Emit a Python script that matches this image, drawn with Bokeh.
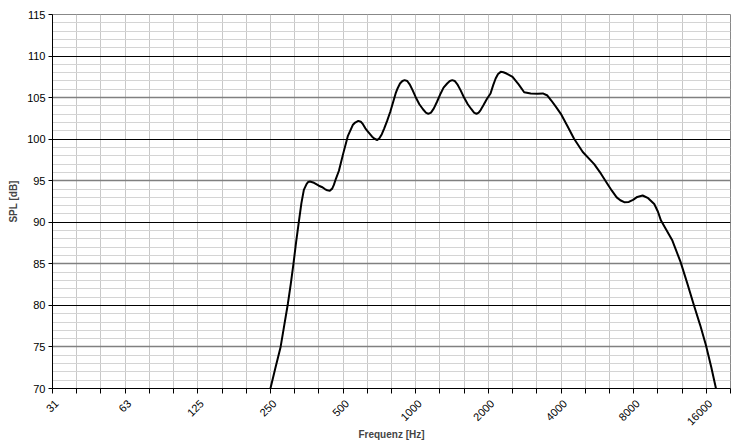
import math
from bokeh.plotting import figure
from bokeh.models import Range1d, FixedTicker, Grid, CustomJSTickFormatter, LogAxis
from bokeh.embed import file_html
from bokeh.resources import INLINE

# Frequency (Hz) and SPL (dB)
freq_hz = [250, 261.8, 275.5, 285.2, 295.3, 303.6, 311.4, 319.4, 327.6, 336.0,
           343.9, 352.8, 358.5, 364.3, 378.9, 396.9, 408.1, 420.4, 430.3, 440.4,
           450.7, 458, 466.5, 480.6, 500, 523.7, 548.4, 561.2, 578.4, 591.9,
           604.3, 618.4, 630, 659.7, 675.1, 692.5, 707.1, 723.7, 740.6, 761.3,
           784.5, 803.0, 825.6, 841.0, 860.7, 880.8, 899.3, 922.4, 944, 970.5,
           1000, 1035.3, 1071.8, 1101.9, 1127.8, 1156.8, 1189, 1225.3, 1268.7, 1304.4,
           1350, 1384.7, 1417.5, 1450.7, 1488, 1533.4, 1583.7, 1643.4, 1701, 1744.7,
           1786, 1823.5, 1857.6, 1909.8, 1977.1, 2042, 2094.5, 2144, 2194.2, 2250.6,
           2308.4, 2378, 2519.8, 2669.6, 2815, 2996, 3197, 3363.9, 3514, 3646.5,
           3819, 3994, 4241, 4531, 4924, 5490, 5856.7, 6233, 6498, 6805,
           7045, 7312, 7640, 7954, 8283, 8713, 9190, 9736, 10080, 10386,
           10877, 11578, 12525, 13300, 14157, 15103, 15949, 16782, 17549]
spl_db = [70.0, 72.4, 75.0, 77.6, 80.2, 82.6, 85.0, 87.6, 90.0, 92.3,
          93.9, 94.6, 94.85, 94.9, 94.75, 94.4, 94.25, 94.0, 93.85, 93.8,
          94.05, 94.5, 95.2, 96.2, 98.2, 100.4, 101.7, 102.0, 102.2, 102.1,
          101.8, 101.3, 101.0, 100.3, 100.05, 99.9, 100.1, 100.6, 101.3, 102.2,
          103.3, 104.3, 105.5, 106.1, 106.7, 107.0, 107.1, 107.0, 106.6, 105.9,
          105.05, 104.2, 103.6, 103.2, 103.05, 103.2, 103.7, 104.5, 105.5, 106.2,
          106.7, 107.0, 107.1, 107.0, 106.6, 105.9, 105.05, 104.2, 103.6, 103.2,
          103.05, 103.2, 103.5, 104.1, 104.9, 105.5, 106.5, 107.3, 107.85, 108.1,
          108.05, 107.9, 107.5, 106.6, 105.65, 105.5, 105.46, 105.5, 105.25, 104.65,
          103.85, 103.05, 101.65, 100.05, 98.45, 97.0, 95.85, 94.6, 93.8, 93.0,
          92.65, 92.42, 92.45, 92.7, 93.05, 93.22, 92.9, 92.2, 91.3, 90.2,
          89.2, 87.8, 85.2, 82.8, 80.2, 77.6, 75.2, 72.55, 70.0]

# Axis: third-octave bands from 31.25 Hz, labelled every octave
band_start_hz = 31.25
band_count = 29
octave_labels = ["31", "63", "125", "250", "500", "1000", "2000", "4000", "8000", "16000"]
y_ticks = [70, 75, 80, 85, 90, 95, 100, 105, 110, 115]
y_dark = [80, 90, 100, 110]
y_gray = [75, 85, 95, 105, 115]
y_minor = [v for v in range(70, 116) if v % 5 != 0]

band_ticks = [band_start_hz * 2 ** (k / 3) for k in range(band_count)]
# label anchors nudged a few pixels right so the rotated labels sit centred under the ticks
label_shift = 2 ** (0.055)
label_ticks = [band_ticks[3 * i] * label_shift for i in range(len(octave_labels))]

p = figure(width=733, height=445, x_axis_type="log",
           x_range=Range1d(band_ticks[0], band_ticks[-1]),
           y_range=Range1d(70, 115),
           output_backend="svg", toolbar_location=None,
           min_border_left=52, min_border_right=3, min_border_top=14,
           min_border_bottom=57)
p.background_fill_color = "white"
p.border_fill_color = "white"
p.outline_line_color = "#888888"
p.outline_line_width = 1

FONT = "Liberation Sans"

# primary x axis: tick marks only
ax1 = p.xaxis[0]
ax1.ticker = FixedTicker(ticks=band_ticks, minor_ticks=[])
ax1.formatter = CustomJSTickFormatter(code="return '';")
ax1.major_label_text_font_size = "0px"
ax1.major_label_standoff = 0
ax1.major_tick_out = 5
ax1.major_tick_in = 0
ax1.minor_tick_line_color = None
ax1.axis_line_color = "black"
ax1.major_tick_line_color = "black"

# secondary x axis: rotated octave labels + title
ax2 = LogAxis(ticker=FixedTicker(ticks=label_ticks, minor_ticks=[]))
ax2.formatter = CustomJSTickFormatter(
    args=dict(labels=octave_labels, f0=band_start_hz),
    code="""
const k = Math.round(Math.log2(tick / f0));
return (k >= 0 && k < labels.length) ? labels[k] : '';
""")
ax2.axis_line_color = None
ax2.major_tick_line_color = None
ax2.minor_tick_line_color = None
ax2.major_tick_out = 0
ax2.major_tick_in = 0
ax2.major_label_orientation = math.pi / 4
ax2.major_label_text_font = FONT
ax2.major_label_text_font_size = "11px"
ax2.major_label_text_color = "black"
ax2.major_label_standoff = 8
ax2.axis_label = "Frequenz [Hz]"
ax2.axis_label_text_font = FONT
ax2.axis_label_text_font_size = "10px"
ax2.axis_label_text_font_style = "bold"
ax2.axis_label_standoff = -3
p.add_layout(ax2, "below")

# y axis
p.yaxis.ticker = FixedTicker(ticks=y_ticks, minor_ticks=[])
p.yaxis.major_tick_out = 4
p.yaxis.major_tick_in = 0
p.yaxis.minor_tick_line_color = None
p.yaxis.axis_line_color = "black"
p.yaxis.major_tick_line_color = "black"
p.yaxis.major_label_text_font = FONT
p.yaxis.major_label_text_font_size = "11px"
p.yaxis.major_label_text_color = "black"
p.yaxis.major_label_standoff = 3
p.yaxis.axis_label = "SPL [dB]"
p.yaxis.axis_label_text_font = FONT
p.yaxis.axis_label_text_font_size = "10px"
p.yaxis.axis_label_text_font_style = "bold"
p.yaxis.axis_label_standoff = 5

# grids
p.xgrid.ticker = FixedTicker(ticks=band_ticks, minor_ticks=[])
p.xgrid.grid_line_color = "#c8c8c8"
p.xgrid.grid_line_width = 1
p.ygrid.grid_line_color = None
p.add_layout(Grid(dimension=1, ticker=FixedTicker(ticks=y_minor),
                  grid_line_color="#d4d4d4", grid_line_width=1))
p.add_layout(Grid(dimension=1, ticker=FixedTicker(ticks=y_gray),
                  grid_line_color="#808080", grid_line_width=1.3))
p.add_layout(Grid(dimension=1, ticker=FixedTicker(ticks=y_dark),
                  grid_line_color="black", grid_line_width=1.2))

p.line(freq_hz, spl_db, line_color="black", line_width=2, line_join="round")

open("out.html", "w").write(file_html(p, INLINE))
